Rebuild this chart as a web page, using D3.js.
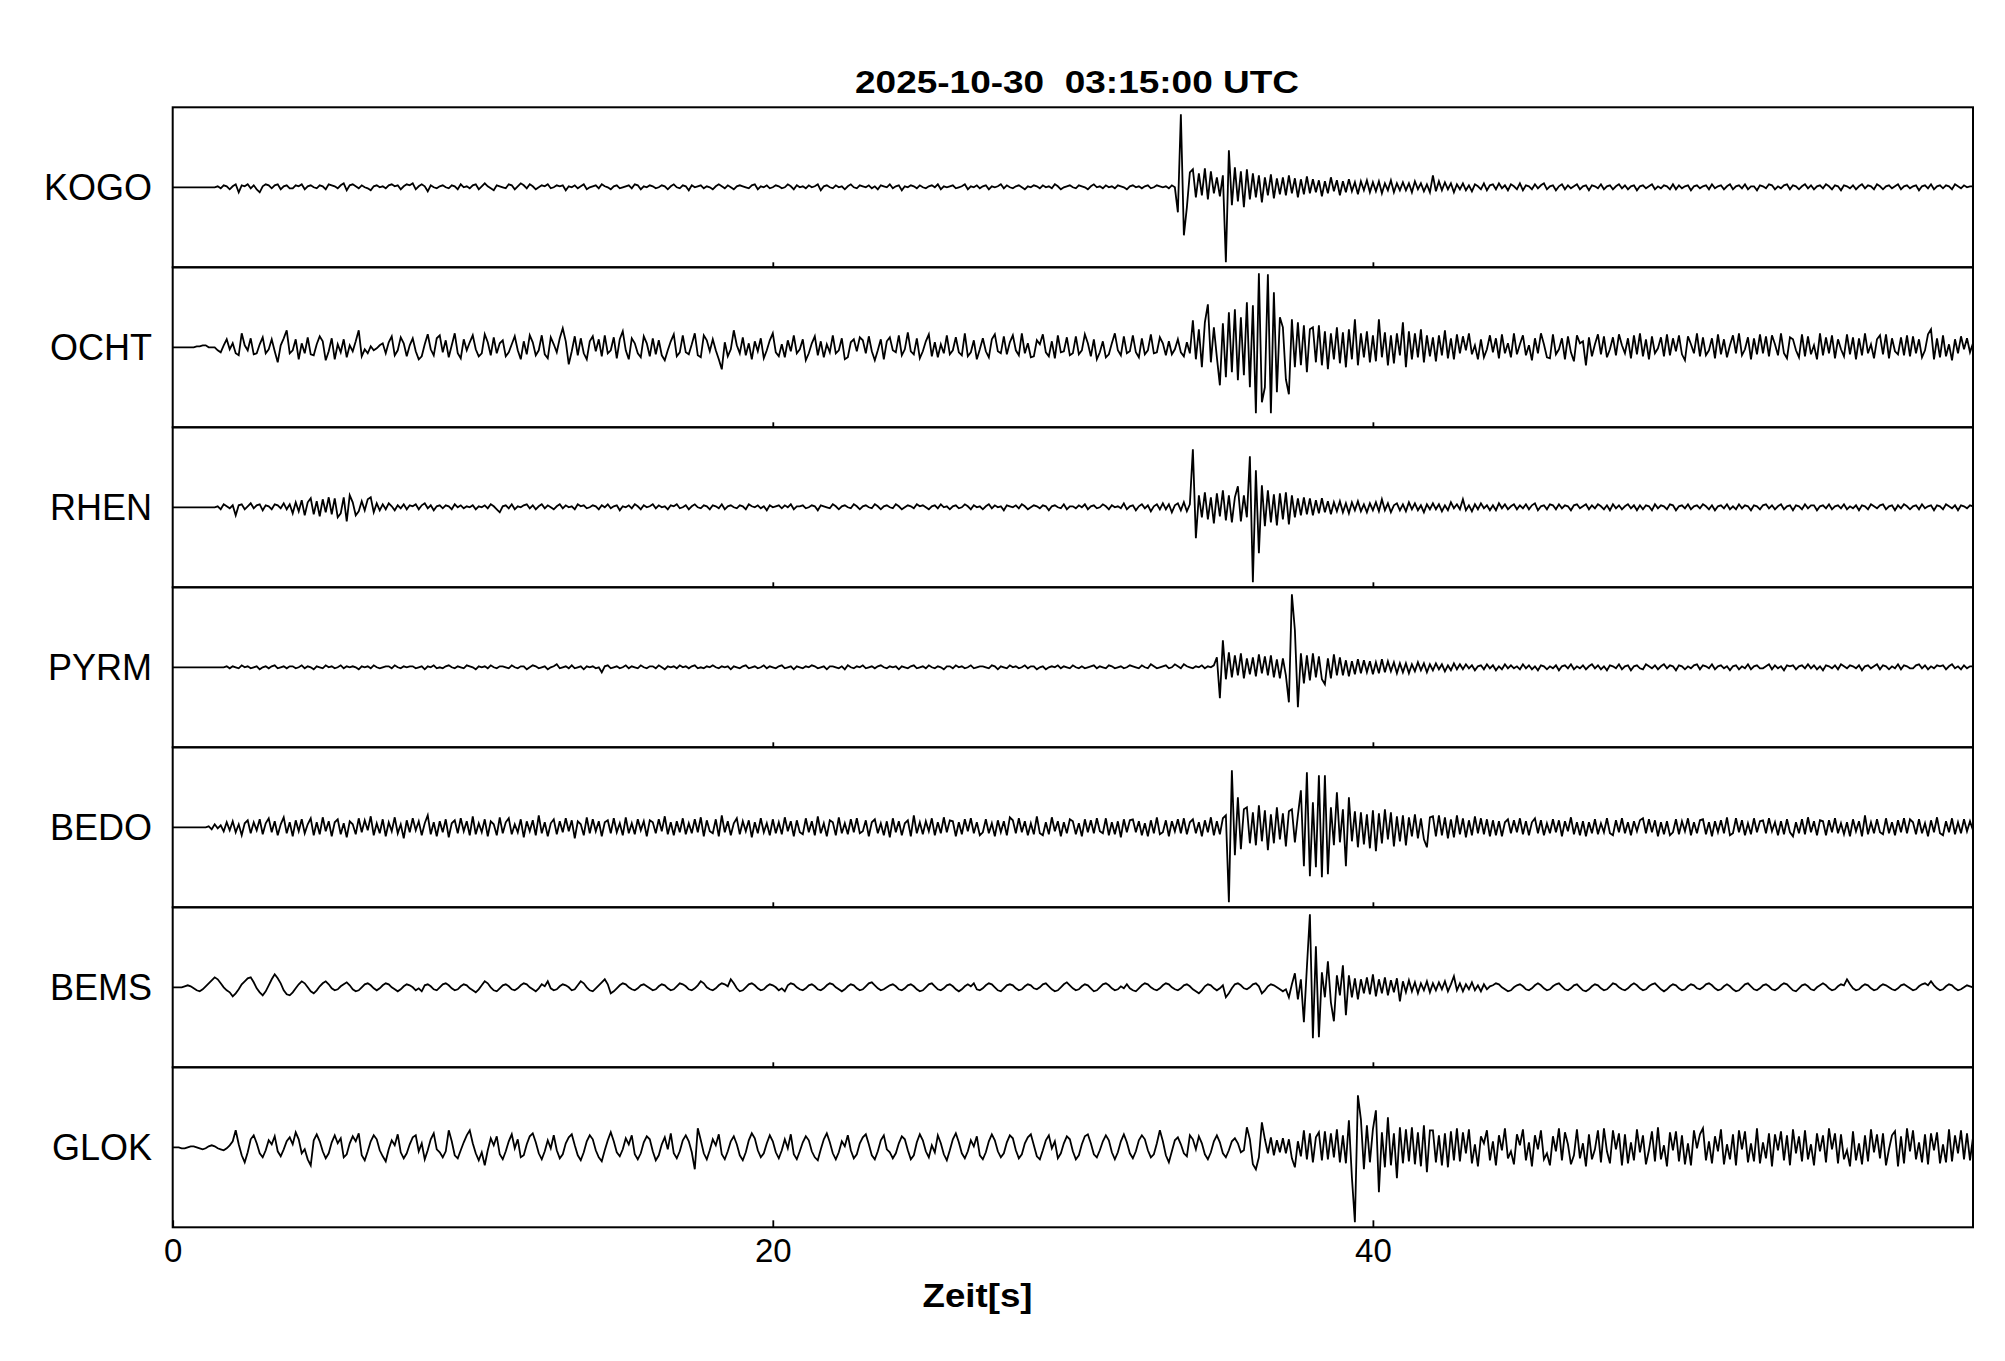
<!DOCTYPE html>
<html><head><meta charset="utf-8">
<script src="https://cdn.jsdelivr.net/npm/d3@7"></script>
<style>body{margin:0;background:#fff}</style>
</head><body>
<svg id="chart" width="2005" height="1361"></svg>
<script>
const title = "2025-10-30  03:15:00 UTC";
const xLabel = "Zeit[s]";
const stations = ["KOGO","OCHT","RHEN","PYRM","BEDO","BEMS","GLOK"];
const xTicks = [0,20,40];
const laneTicks = [20,40];
const sampleInterval = 0.1; // seconds between samples
const kogo = [
0,0,0,0,0,0,0,0,0,0,
0,0,0,0,0,1,-1,2,1,-2,
1,3,-5,2,1,3,-1,2,-2,-5,
1,3,2,-1,2,3,-2,1,2,-1,
-1,2,1,3,-2,1,2,0,-1,2,
1,-2,3,2,1,-1,2,4,-3,2,
3,1,-1,2,0,-1,-3,1,2,0,
1,-1,2,3,1,2,-2,1,3,2,
4,-2,1,3,1,-4,2,0,-1,1,
2,0,-1,2,1,-2,3,0,1,-1,
2,3,-2,1,4,1,-1,-3,2,1,
0,-1,3,2,-2,1,4,2,-1,3,
1,-2,0,2,1,3,-1,0,2,1,
2,-3,1,0,2,-1,1,3,-2,0,
1,2,-1,3,1,0,-2,1,2,-1,
0,1,2,-1,3,2,-2,1,0,2,
1,-1,0,2,1,-2,1,3,0,-1,
2,1,-3,2,0,1,2,-1,1,0,
-2,1,3,1,-1,2,0,-2,1,2,
1,0,-1,2,3,-2,1,0,2,-1,
0,2,1,-1,0,3,1,-2,2,0,
1,-1,2,0,1,3,-3,1,2,0,
-1,2,0,1,-2,1,3,0,-1,2,
1,0,2,-1,1,-2,2,1,0,3,
-1,1,2,-3,1,0,2,1,-1,2,
0,-1,1,2,0,3,-2,1,0,1,
2,-1,0,1,3,-2,1,0,2,-1,
1,2,-2,1,0,1,3,-1,2,0,
-1,1,2,0,-2,1,0,2,1,-1,
2,0,1,-1,3,1,-2,0,1,2,
0,-1,2,1,0,-2,1,3,0,1,
-1,2,0,1,-1,2,1,0,-2,1,
2,0,1,-1,1,2,-1,0,2,1,
0,1,-1,2,0,-25,73,-48,-20,15,
18,-10,14,-8,19,-12,16,-6,10,-9,
12,-75,37,-18,20,-14,16,-20,18,-12,
14,-10,12,-15,10,-8,13,-11,9,-7,
10,-8,12,-6,9,-10,8,-7,11,-6,
8,-5,7,-9,6,-6,10,-4,7,-8,
6,-5,8,-4,5,-7,6,-3,7,-5,
5,-4,6,-6,4,-3,7,-5,4,-3,
5,-3,4,-5,6,-2,4,-4,3,-5,
12,-4,6,-3,5,-2,4,-5,3,-2,
4,-3,2,-4,3,1,-2,4,-3,2,
3,-2,4,-1,2,-3,3,1,-2,4,
-3,2,1,-2,3,-1,2,4,-2,1,
2,-3,1,3,-2,2,-1,1,3,-2,
1,2,-3,2,1,-1,3,-2,1,2,
-2,1,3,-1,2,-2,1,2,-3,1,
2,-1,1,3,-2,1,-1,2,1,-2,
3,-2,2,-1,1,2,-3,1,2,-1,
1,2,-2,3,-1,1,2,-2,1,3,
-2,1,2,-1,3,-2,1,1,-3,2,
1,-1,3,2,-2,1,-1,2,3,-2,
2,1,-2,1,3,-1,2,-2,1,2,
-1,3,1,-2,2,1,-3,2,1,-1,
2,-2,1,3,-1,2,1,-2,3,1,
-2,1,2,-1,1,3,-2,1,2,-1,
1,2,-3,1,2,-1,3,-2,1,2,
-1,2,1,-2,3,1,-1,2,0,1,
1];
const ocht = [
0,0,0,0,0,0,0,0,1,1,
2,2,0,0,0,-3,-5,2,8,-2,
4,-6,-8,14,2,-3,9,-7,-6,3,
10,-6,-2,8,-4,-15,2,9,17,-6,
-3,8,-12,4,-6,10,-7,-8,3,11,
6,-13,-4,9,-12,3,-5,8,-10,2,
-4,6,17,-9,-2,-6,1,-3,-1,2,
4,-6,5,11,-8,-3,10,4,-9,2,
9,-4,-12,-9,3,13,-2,-8,9,12,
-5,7,-10,2,14,-6,-11,8,-3,5,
12,-2,-9,-6,13,5,-8,10,-6,4,
7,-9,-5,3,11,-3,-12,6,-7,12,
5,-8,-3,12,-7,-11,10,3,-5,9,
19,6,-17,-4,11,-8,9,-6,-12,6,
11,-4,8,-9,12,-6,-3,10,-11,8,
16,-3,-12,9,4,-6,-10,11,4,-9,
9,-7,7,-8,-13,-3,6,13,-9,-5,
12,-5,-7,3,14,-8,-10,12,7,-4,
8,-3,-12,-22,5,-9,-2,17,2,-6,
10,-8,4,-12,6,-4,9,-11,-3,7,
14,-5,-9,3,-10,7,-4,12,-6,-2,
8,-13,-6,4,11,-8,6,-10,3,-5,
12,-6,-3,9,-12,-10,5,8,-4,10,
7,-6,11,-4,-13,-3,8,-12,6,10,
-3,-5,12,-8,-2,15,-4,-7,9,-11,
-4,6,13,-9,5,-10,3,-6,12,-7,
-3,10,-5,-8,14,-9,-5,7,-12,-2,
9,-4,-10,8,13,-4,-6,11,-7,5,
12,-3,-8,14,-6,4,-10,-9,7,3,
13,-5,-9,6,-11,12,-5,-4,10,-8,
-6,11,-7,-3,13,4,-9,8,-12,-5,
6,-10,-7,4,14,-3,-8,11,-6,-4,
12,-5,-10,9,-7,-3,13,-6,-5,10,
4,-8,6,-7,-2,8,-5,-9,5,-6,
27,-12,18,-20,25,43,-15,20,-10,-38,
24,-30,35,-25,38,-33,30,-28,45,-40,
42,-66,74,-55,-40,73,-66,55,-45,30,
20,-32,-47,28,-20,25,-18,22,-25,18,
20,-15,22,-18,16,-22,14,-12,20,-16,
15,-20,18,-12,28,-18,14,-10,16,-15,
12,-14,28,-10,15,-18,12,-16,14,-8,
25,-20,16,-12,14,-10,18,-15,12,-9,
10,-14,12,-8,17,-11,9,-12,13,-6,
11,-3,14,-7,2,-12,8,-10,-2,12,
-5,9,-11,13,-6,4,-10,14,-7,3,
12,-8,2,-13,9,-6,14,3,-10,-11,
13,-7,-2,9,-12,11,-5,-14,12,4,
6,-18,10,-9,3,13,-7,11,-10,-2,
10,-8,13,2,-6,9,-11,12,-7,14,
-9,8,-12,11,-6,-1,10,-9,13,-8,
9,-4,12,-7,-13,11,3,-6,14,-9,
10,-8,-3,9,-11,13,-7,8,-10,2,
12,-6,14,-8,-2,10,-12,9,-7,13,
-6,11,-9,12,3,-8,14,-6,-11,10,
8,-3,-10,13,-9,11,-7,2,-12,14,
-8,10,-6,12,-11,8,-2,-9,13,-7,
10,-12,9,-8,14,-6,3,-11,8,12,
-7,13,-11,9,-4,-7,10,-8,12,-9,
11,-6,8,-10,-3,13,18,-12,9,-10,
12,-9,3,-13,8,-6,11,-2,9,-5,
4];
const rhen = [
0,0,0,0,0,0,0,0,0,0,
0,0,0,0,0,1,-2,3,1,-1,
2,-8,2,3,-2,1,4,-1,2,3,
-3,2,1,-2,3,2,-1,4,-2,3,
-6,5,-4,7,-8,5,9,-7,6,-9,
8,-5,10,-7,9,-10,-6,10,-14,12,
5,-8,-4,6,-3,8,10,-5,4,-3,
3,-2,4,1,-3,2,-1,3,-2,2,
1,3,-2,2,4,-1,2,-3,1,2,
-1,2,1,-2,3,0,2,-1,1,0,
2,-2,1,0,2,-1,3,1,-2,-5,
1,2,-1,3,-2,1,0,2,3,-1,
2,-2,1,3,-1,2,0,-2,1,3,
-1,2,0,1,-2,3,1,2,-1,0,
2,1,-2,2,0,3,-1,1,2,-3,
1,0,2,-1,3,1,-2,2,0,1,
3,-1,2,0,1,-2,2,1,3,-1,
0,2,-2,1,3,0,-1,2,1,-2,
2,1,-1,3,-2,1,2,0,-1,2,
1,-2,3,1,0,2,-1,1,-3,2,
0,1,2,-1,2,0,3,-2,1,1,
2,-1,0,2,1,-3,2,1,0,-1,
3,1,-2,1,2,0,-1,3,1,-2,
1,2,0,-1,3,1,-2,1,2,0,
-1,3,1,-2,0,2,1,-1,3,1,
2,0,-2,1,2,-1,3,0,1,-2,
1,2,-1,0,3,1,-2,2,0,1,
-2,1,3,-1,2,0,1,-3,2,1,
0,2,-1,3,1,-2,0,2,1,-1,
2,1,-3,1,2,0,-1,3,-2,1,
1,-1,2,0,3,-2,1,2,-1,0,
3,1,-2,2,0,1,-1,4,-2,1,
2,-3,1,3,-1,2,-4,1,3,-2,
4,-2,3,-5,2,4,-3,5,-4,3,
58,-31,12,-10,15,-12,10,-16,14,-9,
17,-13,12,-15,10,21,-14,12,-10,51,
-75,37,-46,22,-19,17,-15,13,-18,14,
-12,15,-17,12,-10,9,-8,10,-7,9,
-8,7,-6,9,-5,6,-7,5,-4,6,
-5,4,-6,5,-3,6,-4,3,-5,4,
-3,5,-4,8,-3,4,-5,2,4,-3,
3,-4,5,-2,4,-3,2,-5,3,-2,
4,-2,3,-4,2,-3,5,-1,3,-2,
8,-3,2,-4,3,-2,4,-1,2,-3,
2,-3,4,-1,3,-2,1,3,-2,2,
-1,3,-2,2,4,-3,1,2,-2,3,
2,-2,3,-1,2,1,-3,2,3,-1,
1,3,-2,2,-1,3,1,-2,2,-3,
3,-1,2,-2,1,3,-1,2,-3,2,
-2,2,1,-3,3,-1,2,1,-2,3,
2,-3,1,2,-1,3,-2,1,2,-1,
3,1,-2,2,-3,1,2,-1,3,-2,
1,-2,3,-1,2,1,-3,2,1,-2,
2,3,-1,2,-2,1,3,-2,1,2,
-3,2,1,-2,3,-1,2,2,-3,1,
2,-1,3,-2,1,2,-1,3,-2,1,
-1,2,-3,2,1,-2,3,1,-1,2,
3,-2,1,2,-3,2,-1,3,1,-2,
1,2,-2,3,-1,1,2,-3,2,1,
-2,3,1,-1,2,-3,2,1,-1,2,
1];
const pyrm = [
0,0,0,0,0,0,0,0,0,0,
0,0,0,0,0,0,0,0,1,-1,
1,0,-1,2,0,1,-1,0,1,-2,
0,1,-1,1,2,-1,0,1,-1,1,
1,-1,0,2,-1,1,0,-2,1,0,
-1,2,0,1,-1,0,2,-1,1,0,
1,0,-2,1,0,1,-1,2,0,-1,
0,1,1,-1,2,0,-1,1,0,1,
1,-1,0,1,-2,1,0,2,-1,0,
-1,1,2,0,-1,1,0,-1,2,1,
0,-2,1,0,1,-1,2,0,-1,1,
1,0,-1,2,0,-1,1,1,-2,0,
2,1,-1,0,1,-2,0,1,3,-1,
0,1,-1,2,-1,0,1,-2,1,0,
1,-1,0,-5,1,2,-1,0,1,-1,
0,2,-1,1,0,-1,2,0,-1,1,
1,-1,2,0,-2,1,0,1,-1,2,
0,1,-1,1,2,-1,0,-1,1,0,
2,0,-1,1,0,1,-2,1,0,-1,
1,2,-1,0,1,-1,0,2,-1,1,
0,-1,1,2,-1,0,1,-2,1,0,
-1,1,0,2,1,-1,0,1,-2,1,
1,0,-1,1,-2,2,0,-1,1,0,
2,-1,0,1,-1,1,2,0,-1,1,
0,1,-2,1,0,-1,1,2,-1,0,
1,-1,2,0,-1,1,0,-2,1,1,
-1,2,0,1,-1,0,2,-1,0,1,
1,0,-1,2,1,-2,1,0,-1,2,
0,1,-1,0,2,-1,1,1,-2,0,
1,-2,0,1,0,2,-1,1,0,-1,
2,0,-1,1,-1,0,1,2,-1,1,
0,-1,2,1,-1,0,1,-1,0,2,
1,0,-1,2,0,-1,3,1,-1,0,
1,2,-1,0,3,1,-1,3,1,0,
-1,1,0,2,-1,1,0,2,10,-31,
27,-12,15,-10,12,-8,14,-11,9,-7,
10,-9,13,-6,11,-8,12,-10,8,-11,
9,-8,-35,73,37,-40,14,-16,12,-13,
14,-10,11,-12,-17,9,-11,13,-8,10,
-8,7,-9,6,-7,8,-6,7,-5,6,
-7,5,-6,8,-5,6,-4,5,-6,4,
-5,4,-6,3,-4,5,-3,4,-5,3,
-3,4,-2,3,-4,2,-3,4,-2,3,
-2,3,-1,2,-3,1,2,-2,3,-1,
2,-3,1,-2,3,-1,2,-1,1,-2,
3,-1,2,-2,1,-3,2,1,-2,1,
-1,2,-3,1,2,-1,3,-2,1,-1,
2,-2,1,3,-1,2,-2,1,-3,2,
1,-1,3,-2,1,2,-3,1,2,-1,
-2,3,1,-1,2,-2,1,3,-1,2,
1,-3,2,1,-2,1,-1,2,3,-2,
2,1,-1,3,-2,1,2,-1,1,-3,
1,2,-2,1,-1,3,-2,1,2,-1,
-1,1,3,-2,2,-1,1,-3,2,1,
2,-2,1,2,-1,3,-1,2,-2,1,
-3,2,1,-1,2,-2,3,1,-1,2,
1,-1,2,-3,1,2,-1,1,3,-2,
2,1,-2,1,-1,3,-2,2,1,-1,
-1,2,3,-1,2,-2,1,-1,2,1,
2,-2,1,3,-1,1,-2,2,-1,1,
1];
const bedo = [
0,0,0,0,0,0,0,0,0,0,
0,0,1,-2,3,-1,2,-4,5,-3,
6,-5,3,-8,4,7,-6,5,-3,8,
-7,4,9,-5,6,-8,3,10,-6,5,
-9,7,-4,8,-6,3,9,-8,5,-7,
10,-4,6,-9,5,8,-7,4,-10,6,
3,-7,9,-5,7,-3,11,-8,4,-6,
8,-9,5,-4,10,-6,3,-11,7,-5,
9,-3,6,-8,4,12,-7,5,-9,6,
-5,8,-10,4,7,-6,9,-4,6,-8,
11,-7,4,-5,8,-9,6,3,-8,10,
-6,5,9,-7,3,-5,8,-10,6,-4,
7,-8,12,-6,5,-9,4,8,-7,6,
-5,9,-4,7,-11,6,3,-8,10,-6,
8,-4,6,-9,5,7,-6,9,-5,4,
-8,10,-6,4,-7,8,-3,6,-9,7,
5,-6,8,-4,11,-7,5,-8,6,-5,
9,-7,4,-6,8,-5,10,-9,7,-4,
-6,8,-9,12,-5,6,-8,4,9,-7,
6,-4,7,-10,5,-6,9,-5,4,-8,
8,-6,5,-7,10,-4,6,-9,7,-5,
-7,9,-5,6,-8,11,-6,4,-9,7,
5,-8,10,-6,4,-7,8,-5,9,-6,
-4,7,-9,5,8,-6,4,-8,6,-10,
9,-5,6,-8,4,7,-9,12,-6,5,
-7,6,-4,9,-8,5,-6,10,-5,7,
6,-9,5,-7,8,-4,9,-6,5,-8,
-5,8,-6,4,-9,7,-5,6,-8,10,
7,-6,9,-5,6,-8,4,-7,11,-6,
-8,5,-7,10,-4,6,-9,5,-6,8,
6,-7,4,-9,8,-5,7,-6,9,-4,
-6,9,-8,5,-7,6,-10,8,-5,7,
8,-5,6,-8,4,-9,7,-6,10,-7,
-5,7,-9,6,-4,8,-6,9,-7,5,
8,-6,5,-9,7,-5,10,-8,6,-7,
9,12,-75,57,-28,30,-22,18,20,-16,
15,-18,22,-14,17,-23,13,-16,20,-12,
14,-19,16,18,-15,12,37,-39,55,-49,
25,-40,52,-50,52,-47,20,-18,35,-15,
18,-39,30,-14,16,-20,15,-17,13,-21,
17,-24,14,-16,18,-12,15,-19,11,-14,
12,-18,10,-9,13,-11,9,-12,-20,10,
11,-9,12,-8,10,-11,8,-10,12,-7,
9,-10,7,-8,11,-6,9,-7,8,-9,
7,-8,6,-9,5,8,-6,7,-5,9,
-7,6,-8,5,9,-6,7,-8,4,-6,
8,-5,7,-9,6,-4,10,-7,5,-8,
6,-9,5,-6,8,-7,4,-5,9,-6,
-8,7,-5,9,-6,5,-8,6,-4,7,
9,-6,8,-5,7,-9,5,-7,6,-8,
-5,8,-7,6,-4,9,-8,5,-6,7,
8,-7,5,-9,6,-5,7,-6,10,-8,
-6,9,-5,7,-8,4,-7,9,-5,6,
7,-6,9,-4,5,-8,6,-7,8,-5,
-9,5,-6,8,-7,10,-5,6,-8,7,
6,-8,7,-5,9,-6,4,-7,5,-9,
8,-4,6,-9,12,-7,5,-6,8,-5,
-7,9,-6,5,-8,7,-5,9,-6,8,
5,-7,8,-6,4,-9,7,-5,10,-6,
-8,6,-5,9,-7,5,-6,8,-4,6,
-3];
const bems = [
0,0,0,0,1,2,1,-1,-3,-4,
-2,1,4,7,10,8,4,0,-3,-5,
-9,-6,-2,3,6,9,10,5,-1,-5,
-8,-4,2,8,13,9,4,-3,-7,-8,
-5,-1,3,6,4,0,-4,-6,-3,1,
4,6,3,-1,-3,-2,1,3,5,2,
-2,-4,-3,0,3,4,2,-1,-3,-1,
2,4,3,0,-2,-4,-2,1,3,2,
0,-3,-1,-4,2,3,1,-2,-3,0,
3,4,2,-1,-3,-2,1,3,2,-1,
-3,-5,-2,2,6,4,0,-3,-4,-1,
2,3,1,-2,-3,-1,2,4,3,0,
-2,-4,-1,3,1,6,-1,-3,-2,1,
3,2,0,-3,-2,2,6,4,0,-3,
-4,-1,2,5,8,3,-6,-4,-1,2,
4,3,0,-2,-3,-1,2,3,1,-1,
-3,-2,1,3,2,-1,-3,-2,1,4,
3,1,-2,-3,-1,2,6,4,0,-2,
-3,-1,2,4,3,1,8,4,-1,-4,
-3,0,3,4,2,-1,-3,-2,1,3,
2,0,-3,-1,-4,2,4,3,0,-2,
-3,-1,2,3,1,-2,-3,-1,2,4,
3,0,-2,-4,-2,1,3,2,-1,-3,
-2,1,4,5,2,-1,-3,-2,0,2,
3,1,-2,-3,-1,2,3,1,-2,-4,
-3,0,3,4,1,-2,-3,-1,2,3,
1,-2,-4,-2,1,3,1,4,-2,-3,
-1,2,4,3,0,-3,-4,-1,2,3,
2,-1,-3,-2,1,3,2,-1,-2,0,
3,4,1,-2,-4,-3,0,3,5,2,
-1,-3,-2,1,3,2,-1,-4,-3,0,
3,4,2,-1,-3,-2,1,-1,3,-1,
-3,-4,-1,2,4,3,0,-2,-3,-1,
2,4,3,0,-2,-3,-1,2,3,1,
-2,-4,-6,-3,1,3,2,-1,-3,-1,
2,-10,-6,-1,3,4,2,-1,-2,0,
3,4,1,-6,-3,1,3,2,0,-2,
-4,-2,-10,3,14,-12,8,-35,20,73,
-51,41,-50,15,-10,26,-15,-34,12,-8,
22,-28,12,-10,9,-12,8,-6,10,-7,
13,-9,8,-6,10,-8,7,-5,9,-14,
6,-5,7,-4,5,-6,4,-3,6,-5,
4,-3,5,-2,6,-4,3,11,-3,4,
-4,3,-2,5,-3,2,-4,3,-2,1,
2,4,3,0,-2,-4,-3,0,2,3,
1,-2,-3,-1,2,4,2,-1,-3,-2,
1,3,4,1,-2,-3,-1,2,3,0,
-3,-4,-2,1,3,2,-1,-3,-2,1,
4,3,0,-2,-3,-1,2,4,2,-1,
-3,-2,1,3,4,1,-2,-4,-2,1,
3,2,-1,-3,-2,1,3,2,-1,-2,
0,3,4,2,-1,-3,-2,1,3,1,
-2,-4,-3,0,3,4,1,-2,-3,-1,
2,3,1,-2,-3,-1,2,4,3,0,
-3,-4,-1,2,3,1,-2,-3,0,2,
4,2,-1,-3,-2,1,3,2,8,3,
-1,-3,-2,1,3,2,-1,-3,-2,1,
3,2,0,-2,-3,-1,2,3,1,-1,
-3,-2,1,3,4,2,6,2,-1,-3,
-2,1,3,2,-1,-3,-2,0,2,1,
0];
const glok = [
0,0,0,-1,-1,0,1,1,0,-1,
-2,-1,1,2,1,-1,-2,-3,-1,2,
6,17,3,-8,-15,-5,8,12,4,-6,
-10,-3,7,3,11,-4,-9,-2,6,10,
3,15,8,-6,-2,-12,-18,7,13,6,
-4,-11,-6,5,12,4,9,-10,-7,4,
11,6,14,-8,-13,-4,6,12,8,-3,
-9,-14,-2,7,2,13,-5,-11,-6,3,
10,12,-4,4,-12,-3,8,14,-2,-5,
-10,-4,17,6,-8,-11,-3,5,12,17,
4,-6,-13,-5,-18,-3,9,2,11,-7,
-12,-4,6,13,-1,8,-10,-8,3,11,
14,5,-6,-12,-4,7,-1,12,-3,-11,
-7,4,10,13,2,-8,-13,-5,6,12,
8,-3,-10,-14,-3,7,15,6,-5,-9,
-2,9,3,12,-7,-12,-6,5,11,8,
-4,-13,-8,3,10,-2,14,-6,-11,-4,
7,12,6,-5,-22,19,7,-6,-12,-3,
8,2,13,-7,-12,-4,6,11,3,-8,
-13,-5,7,14,9,-3,-10,-6,4,12,
6,-5,-11,-3,8,-1,13,-7,-12,-4,
5,11,7,-4,-10,-13,-2,8,14,5,
-6,-12,-5,6,1,12,-3,-11,-7,4,
10,13,3,-8,-12,-4,7,12,-2,-5,
-11,-6,4,11,8,-3,-12,-8,5,13,
7,-4,-10,2,-5,12,4,-7,-13,-3,
8,14,5,-6,-11,-4,7,1,11,-8,
-12,-5,6,13,7,-4,-10,-6,5,12,
9,-3,-11,-7,4,10,13,2,-9,-12,
-3,7,12,-1,6,-11,-6,4,11,8,
-4,-12,-8,3,11,13,4,-7,-10,-3,
6,12,7,-5,-12,-5,6,13,5,-6,
-11,-4,7,12,8,-3,-10,-7,4,17,
6,-8,-15,-4,7,10,3,-6,-9,12,
8,-2,11,4,-7,-12,-5,6,12,5,
-6,-10,-3,6,9,4,-5,-3,20,8,
-17,-22,-10,25,8,-6,10,-8,7,-5,
9,-6,8,-11,-20,6,-9,17,-12,14,
-15,10,15,-13,16,-12,14,-10,18,-15,
12,-16,27,-30,-75,52,28,-22,22,-15,
18,37,-45,15,-20,30,-18,14,-31,20,
-16,18,-14,20,-17,15,-19,22,-25,17,
17,-15,12,-18,14,-20,16,-13,19,-14,
15,-6,18,-16,3,-19,11,4,17,-13,
6,-18,12,-3,19,-11,-4,-17,13,2,
18,-13,5,-19,12,-2,17,-12,-6,-18,
11,-4,19,-13,15,3,-17,-8,18,-11,
4,-19,13,-12,-2,17,-15,19,-4,-16,
17,-2,14,-18,13,-16,5,-13,18,-5,
12,-17,-3,16,-14,20,-12,2,-19,15,
-3,16,-14,12,-17,4,-18,17,-1,13,
19,-13,6,-16,11,-4,18,-17,3,-12,
13,-18,17,-2,16,-15,4,-14,19,-16,
5,-11,14,-19,13,-3,16,-13,12,-18,
18,-6,11,-14,17,-12,3,-18,14,-4,
12,-15,19,-2,14,-16,13,-12,-3,-19,
16,-13,4,-17,12,-14,18,-5,13,-11,
14,-18,-2,12,16,-19,11,-16,19,-4,
17,-12,5,-15,13,-17,14,-3,15,-16,
3,-15,18,-14,12,-6,17,-12,14,-13,
10];
const traces = [kogo, ocht, rhen, pyrm, bedo, bems, glok];

const W = 2005, H = 1361;
const frame = {left: 172.7, right: 1973, top: 107.3, bottom: 1227.3};
const font = "'Liberation Sans', Arial, Helvetica, sans-serif";

const svg = d3.select("#chart");
svg.append("rect").attr("width", W).attr("height", H).attr("fill", "#fff");

const x = d3.scaleLinear().domain([0, 60]).range([frame.left, frame.right]);
const lane = d3.scaleBand().domain(stations).range([frame.top, frame.bottom]);

const plot = svg.append("g");

stations.forEach((name, k) => {
  const y0 = lane(name), h = lane.bandwidth();
  const y = d3.scaleLinear().domain([-80, 80]).range([y0 + h, y0]);
  const line = d3.line()
    .x((d, i) => x(i * sampleInterval))
    .y(d => y(d));
  plot.append("path")
    .datum(traces[k])
    .attr("d", line)
    .attr("fill", "none")
    .attr("stroke", "#000")
    .attr("stroke-width", 1.8)
    .attr("stroke-linejoin", "miter");
  svg.append("text")
    .attr("x", 152)
    .attr("y", y(0) + 12.5)
    .attr("text-anchor", "end")
    .attr("font-family", font)
    .attr("font-size", 36)
    .attr("fill", "#000")
    .text(name);
  if (k < stations.length - 1) {
    const ax = d3.axisBottom(x).tickValues(laneTicks).tickSize(-5).tickFormat("");
    const g = svg.append("g").attr("transform", `translate(0,${y0 + h})`).call(ax);
    g.select(".domain").remove();
    g.selectAll(".tick line").attr("stroke", "#000").attr("stroke-width", 1.8);
  }
  svg.append("rect")
    .attr("x", frame.left).attr("y", y0)
    .attr("width", frame.right - frame.left).attr("height", h)
    .attr("fill", "none").attr("stroke", "#000").attr("stroke-width", 2);
});

const xAxis = d3.axisBottom(x).tickValues(xTicks).tickSize(-7).tickPadding(11).tickFormat(d3.format("d"));
const gx = svg.append("g").attr("transform", `translate(0,${frame.bottom})`).call(xAxis);
gx.select(".domain").remove();
gx.selectAll(".tick line").attr("stroke", "#000").attr("stroke-width", 1.8);
gx.selectAll(".tick text").attr("font-family", font).attr("font-size", 33).attr("fill", "#000");

svg.append("text")
  .attr("x", 1077).attr("y", 93)
  .attr("text-anchor", "middle")
  .attr("font-family", font)
  .attr("font-weight", "bold")
  .attr("font-size", 32)
  .attr("textLength", 444)
  .attr("lengthAdjust", "spacingAndGlyphs")
  .style("white-space", "pre")
  .text(title);

svg.append("text")
  .attr("x", 977.5).attr("y", 1307)
  .attr("text-anchor", "middle")
  .attr("font-family", font)
  .attr("font-weight", "bold")
  .attr("font-size", 34)
  .attr("textLength", 110)
  .attr("lengthAdjust", "spacingAndGlyphs")
  .text(xLabel);
</script>
</body></html>
